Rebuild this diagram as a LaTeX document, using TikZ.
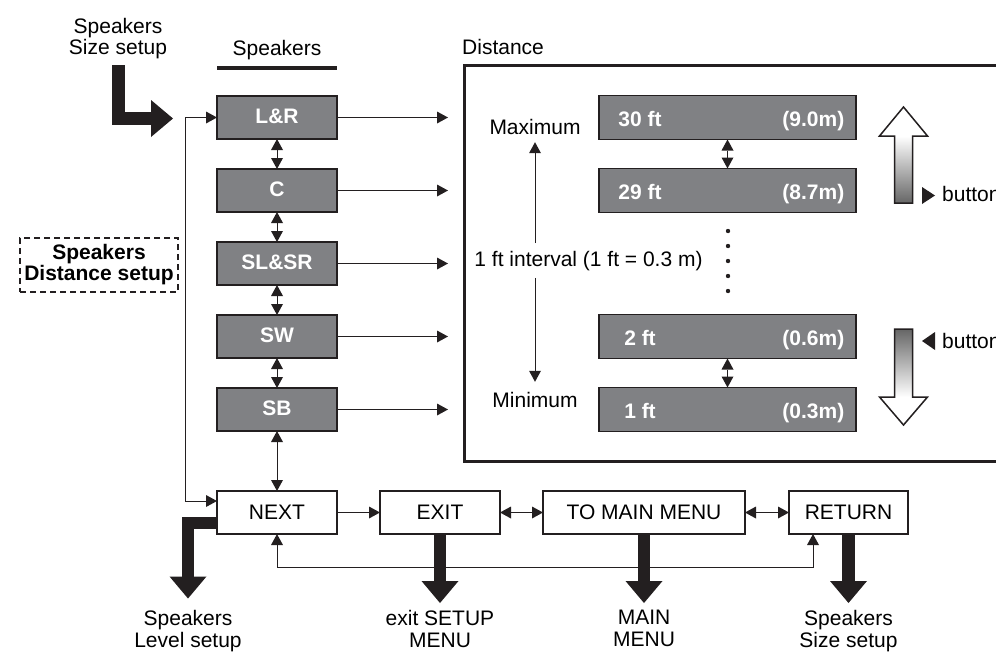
\documentclass[tikz,border=0pt]{standalone}
\usepackage{fontspec}
\setmainfont{Liberation Sans}
\usetikzlibrary{positioning,arrows.meta}

\definecolor{ink}{RGB}{35,31,32}
\definecolor{boxgray}{RGB}{128,129,132}

\begin{document}
\begin{tikzpicture}[
    x=1pt, y=-1pt,
    font=\fontsize{21}{21.5}\selectfont,
    spk/.style={draw=ink, line width=1.5pt, fill=boxgray, text=white, font=\fontsize{21}{21.5}\selectfont\bfseries,
        minimum width=120pt, minimum height=43pt, inner sep=0pt, outer sep=0pt, text height=14pt, text depth=3pt},
    dist/.style={spk, minimum width=257pt, minimum height=44pt},
    dval/.style={text=white, font=\fontsize{21}{21.5}\selectfont\bfseries, inner sep=0pt},
    menu/.style={draw=ink, line width=1.5pt, fill=white, minimum height=43pt, inner sep=0pt, outer sep=0pt},
    lbl/.style={align=center, inner sep=0pt, outer sep=0pt},
    arr/.style={-{Triangle[length=11pt,width=12pt,line width=0pt]}, line width=1pt, draw=ink},
    dbl/.style={{Triangle[length=11pt,width=12pt,line width=0pt]}-{Triangle[length=11pt,width=12pt,line width=0pt]}, line width=1pt, draw=ink},
    fat/.style={-{Triangle[length=22pt,width=37pt,line width=0pt]}, line width=12.5pt, draw=ink}
]
\useasboundingbox (0,0) rectangle (996,651);
\clip (0,0) rectangle (996,651);

% speakers column
\node[spk] (lr) at (277,117.5) {L\&R};
\node[spk, below=30pt of lr] (c) {C};
\node[spk, below=30pt of c] (slsr) {SL\&SR};
\node[spk, below=30pt of slsr] (sw) {SW};
\node[spk, below=30pt of sw] (sb) {SB};
\node[anchor=base, inner sep=0pt] (spkhead) at ([yshift=40.5pt]lr.north) {Speakers};
\draw[ink, line width=4pt] ([yshift=28.5pt]lr.north west) -- ([yshift=28.5pt]lr.north east);

% menu row
\node[menu, minimum width=120pt, below=60pt of sb] (next) {NEXT};
\node[menu, minimum width=120pt, right=43pt of next] (exit) {EXIT};
\node[menu, minimum width=202pt, right=43pt of exit] (tomain) {TO MAIN MENU};
\node[menu, minimum width=119pt, right=44pt of tomain] (ret) {RETURN};

\node[lbl, below=76.5pt of exit] (exitlbl) {exit SETUP\\MENU};
\node[lbl, below=76.5pt of tomain] (mainlbl) {MAIN\\MENU};
\node[lbl, below=76.5pt of ret] (retlbl) {Speakers\\Size setup};
\node[lbl, anchor=north] (lvl) at (188,610.5) {Speakers\\Level setup};

% left side
\node[lbl, anchor=north] (sizein) at (118,18) {Speakers\\Size setup};
\coordinate (sizetip) at (173,118.5);
\node[draw=ink, dash pattern=on 6pt off 4pt, line width=1.3pt, minimum width=158pt, minimum height=54pt,
    align=center, inner sep=0pt, font=\fontsize{21}{21}\selectfont\bfseries] (dsetup) at (99,265) {Speakers\\Distance setup};

% distance panel
\node[draw=ink, line width=2.5pt, minimum width=560pt, minimum height=396pt, anchor=north west] (dbox) at (463,64) {};
\node[anchor=base west, inner sep=0pt] (dlbl) at (462,54) {Distance};

\node[dist, right=262pt of lr] (d30) {};
\node[dist, right=262pt of c] (d29) {};
\node[dist, right=262pt of sw] (d2) {};
\node[dist, right=262pt of sb] (d1) {};
\node[dval, anchor=base] (d30ft) at ([xshift=41pt,yshift=-9pt]d30.west) {30 ft};
\node[dval, anchor=base east] (d30m) at ([xshift=-11.5pt,yshift=-9pt]d30.east) {(9.0m)};
\node[dval, anchor=base] (d29ft) at ([xshift=41pt,yshift=-9pt]d29.west) {29 ft};
\node[dval, anchor=base east] (d29m) at ([xshift=-11.5pt,yshift=-9pt]d29.east) {(8.7m)};
\node[dval, anchor=base] (d2ft) at ([xshift=41pt,yshift=-9pt]d2.west) {2 ft};
\node[dval, anchor=base east] (d2m) at ([xshift=-11.5pt,yshift=-9pt]d2.east) {(0.6m)};
\node[dval, anchor=base] (d1ft) at ([xshift=41pt,yshift=-9pt]d1.west) {1 ft};
\node[dval, anchor=base east] (d1m) at ([xshift=-11.5pt,yshift=-9pt]d1.east) {(0.3m)};

\node[lbl] (maxlbl) at (535,127) {Maximum};
\node[lbl] (minlbl) at (535,400) {Minimum};
\node[lbl] (intv) at (588.5,261.5) {1 ft interval (1 ft = 0.3 m)};

\fill[ink] (728,231) circle (2.2pt) (728,246) circle (2.2pt) (728,261) circle (2.2pt)
    (728,276) circle (2.2pt) (728,291) circle (2.2pt);

% up / down buttons
\shade[top color=white, bottom color=black!60] (894.5,136) rectangle (912.5,203);
\fill[white] (879.5,136) -- (903.5,107) -- (927.5,136) -- cycle;
\draw[ink, line width=1.5pt] (894.5,203) -- (894.5,136) -- (879.5,136) -- (903.5,107) -- (927.5,136)
    -- (912.5,136) -- (912.5,203) -- cycle;
\fill[ink] (922,187) -- (935,195.5) -- (922,204) -- cycle;
\node[anchor=base west, inner sep=0pt] (btnup) at (942,201) {button};

\shade[top color=black!60, bottom color=white] (894.5,329) rectangle (912.5,397);
\fill[white] (879.5,397) -- (903.5,425) -- (927.5,397) -- cycle;
\draw[ink, line width=1.5pt] (894.5,329) -- (894.5,397) -- (879.5,397) -- (903.5,425) -- (927.5,397)
    -- (912.5,397) -- (912.5,329) -- cycle;
\fill[ink] (935,332) -- (922,341) -- (935,350) -- cycle;
\node[anchor=base west, inner sep=0pt] (btndn) at (942,348) {button};

% thin connectors
\draw[dbl] (lr) -- (c);
\draw[dbl] (c) -- (slsr);
\draw[dbl] (slsr) -- (sw);
\draw[dbl] (sw) -- (sb);
\draw[dbl] (sb) -- (next);
\draw[dbl] (d30) -- (d29);
\draw[dbl] (d2) -- (d1);

\draw[arr, shorten >=15pt] (lr.east) -- (lr.east -| dbox.west);
\draw[arr, shorten >=15pt] (c.east) -- (c.east -| dbox.west);
\draw[arr, shorten >=15pt] (slsr.east) -- (slsr.east -| dbox.west);
\draw[arr, shorten >=15pt] (sw.east) -- (sw.east -| dbox.west);
\draw[arr, shorten >=15pt] (sb.east) -- (sb.east -| dbox.west);

\draw[arr, shorten <=8.5pt, shorten >=7.5pt] (maxlbl.south |- intv.north) -- (maxlbl.south);
\draw[arr, shorten <=6.5pt, shorten >=10.5pt] (minlbl.north |- intv.south) -- (minlbl.north);

\draw[dbl] (lr.west) -- ++(-32,0) |- ([yshift=11.5pt]next.west);
\draw[dbl] (next.south) -- ++(0,33) -| ([xshift=-35.5pt]ret.south);
\draw[arr] (next) -- (exit);
\draw[dbl] (exit) -- (tomain);
\draw[dbl] (tomain) -- (ret);

% thick arrows
\draw[fat, line width=13pt] ([yshift=-6pt]sizein.south) |- (sizetip);
\draw[fat, line width=11.5pt, shorten >=12pt] ([yshift=-10.5pt]next.west) -| (lvl.north);
\draw[fat, shorten >=7.5pt] (exit.south) -- (exitlbl.north);
\draw[fat, shorten >=7.5pt] (tomain.south) -- (mainlbl.north);
\draw[fat, shorten >=7.5pt] (ret.south) -- (retlbl.north);
\end{tikzpicture}
\end{document}
